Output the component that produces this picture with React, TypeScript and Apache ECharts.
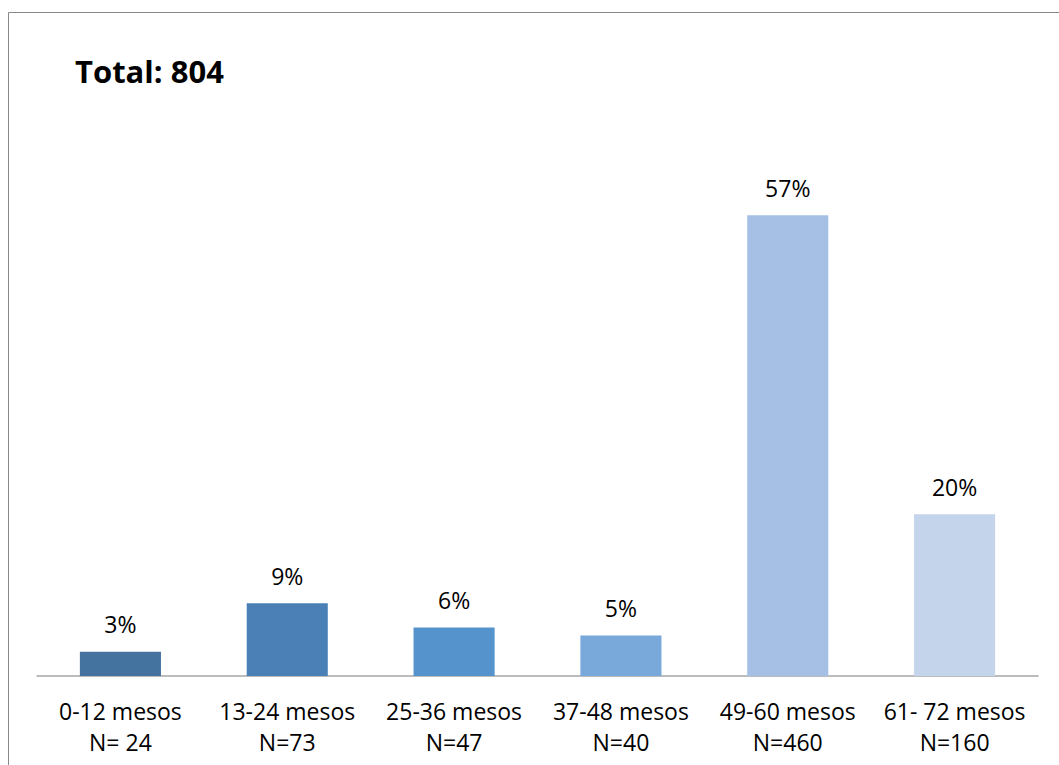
import React, { useEffect, useRef } from "react";
import * as echarts from "echarts";

const categories = ["0-12 mesos", "13-24 mesos", "25-36 mesos", "37-48 mesos", "49-60 mesos", "61- 72 mesos"];
const counts = ["N= 24", "N=73", "N=47", "N=40", "N=460", "N=160"];
const percents = [3, 9, 6, 5, 57, 20];
const barColors = ["#44739f", "#4a80b6", "#5593cc", "#79a8da", "#a5c0e4", "#c4d5eb"];
const totalLabel = "Total: 804";

const FONT = "'Open Sans', 'Noto Sans', sans-serif";

export default function App() {
  const ref = useRef<HTMLDivElement>(null);

  useEffect(() => {
    document.body.style.margin = "0";
    const chart = echarts.init(ref.current!, null, { renderer: "svg" });
    chart.setOption({
      animation: false,
      backgroundColor: "#ffffff",
      graphic: [
        {
          type: "rect",
          shape: { x: 8.5, y: 12.5, width: 1100, height: 800 },
          style: { fill: "none", stroke: "#898989", lineWidth: 1 },
          silent: true,
        },
        {
          type: "text",
          left: 75,
          top: 55,
          style: { text: totalLabel, font: `bold 31px ${FONT}`, fill: "#000000" },
        },
      ],
      grid: { left: 37, right: 21, top: 191, bottom: 89 },
      xAxis: {
        type: "category",
        data: categories.map((c, i) => `${c}\n${counts[i]}`),
        axisLine: { show: true, lineStyle: { color: "#a6a6a6", width: 1.5 } },
        axisTick: { show: false },
        axisLabel: {
          interval: 0,
          margin: 19,
          fontFamily: FONT,
          fontSize: 23,
          lineHeight: 31,
          color: "#000000",
        },
      },
      yAxis: {
        type: "value",
        min: 0,
        max: 60,
        show: false,
        splitLine: { show: false },
      },
      series: [
        {
          type: "bar",
          barWidth: "48.6%",
          data: percents.map((v, i) => ({ value: v, itemStyle: { color: barColors[i] } })),
          label: {
            show: true,
            position: "top",
            distance: 16,
            formatter: (p: any) => `${p.value}%`,
            fontFamily: FONT,
            fontSize: 23,
            color: "#000000",
          },
        },
      ],
    });
    return () => chart.dispose();
  }, []);

  return <div ref={ref} style={{ width: 1059, height: 765 }} />;
}
